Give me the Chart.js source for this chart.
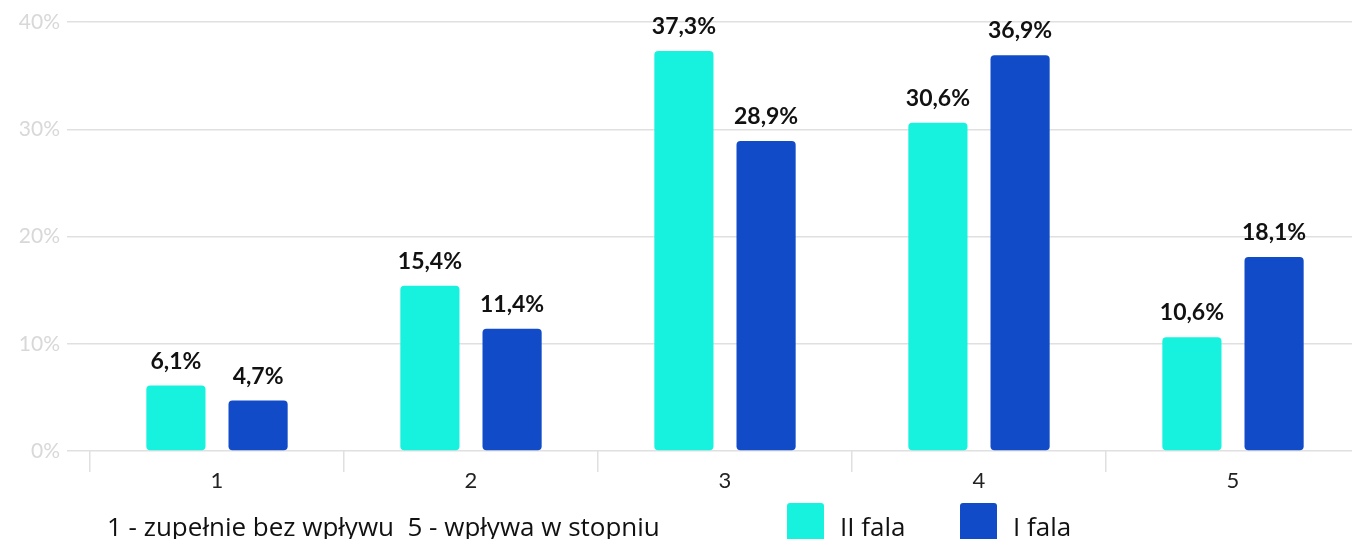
<!DOCTYPE html>
<html lang="pl">
<head>
<meta charset="utf-8">
<title>II fala / I fala</title>
<script src="https://cdn.jsdelivr.net/npm/chart.js@4"></script>
<style>
  html, body { margin: 0; padding: 0; background: #fff; overflow: hidden; }
  #wrap { position: relative; width: 1360px; height: 539px; }
</style>
</head>
<body>
<div id="wrap"><canvas id="chart"></canvas></div>
<script>
// ── data ──
const categories = ['1', '2', '3', '4', '5'];
const iiFala = [6.1, 15.4, 37.3, 30.6, 10.6];
const iFala = [4.7, 11.4, 28.9, 36.9, 18.1];
const yTicks = [0, 10, 20, 30, 40];
const axisTitle = '1 - zupełnie bez wpływu  5 - wpływa w stopniu';

const CYAN = '#17f2de';
const BLUE = '#124bc8';
const GRID = '#e0e0e0';

const fmt = v => v.toFixed(1).replace('.', ',') + '%';

// value labels above the bars
const valueLabels = {
  id: 'valueLabels',
  afterDatasetsDraw(chart) {
    const ctx = chart.ctx;
    ctx.save();
    ctx.font = "bold 23px Lato";
    ctx.fillStyle = '#111';
    ctx.textAlign = 'center';
    ctx.textBaseline = 'alphabetic';
    chart.data.datasets.forEach((ds, i) => {
      chart.getDatasetMeta(i).data.forEach((bar, j) => {
        ctx.fillText(fmt(ds.data[j]), bar.x, bar.y - 17);
      });
    });
    ctx.restore();
  }
};

// axis note + legend along the bottom
const footer = {
  id: 'footer',
  afterDraw(chart) {
    const ctx = chart.ctx;
    const base = 536;
    ctx.save();
    ctx.font = "26px 'Open Sans'";
    ctx.fillStyle = '#111';
    ctx.textBaseline = 'alphabetic';
    ctx.textAlign = 'left';
    ctx.fillText(axisTitle, chart.chartArea.left + 17, base);

    const items = [{ x: 787 }, { x: 960 }];
    chart.data.datasets.forEach((ds, i) => {
      const x = items[i].x;
      ctx.fillStyle = ds.backgroundColor;
      ctx.beginPath();
      ctx.roundRect(x, 503, 37, 45, 3);
      ctx.fill();
      ctx.fillStyle = '#111';
      ctx.fillText(ds.label, x + 53, base);
    });
    ctx.restore();
  }
};

new Chart(document.getElementById('chart'), {
  type: 'bar',
  data: {
    labels: categories,
    datasets: [
      { label: 'II fala', data: iiFala, backgroundColor: CYAN },
      { label: 'I fala', data: iFala, backgroundColor: BLUE },
    ]
  },
  options: {
    responsive: true,
    maintainAspectRatio: false,
    animation: false,
    layout: { padding: { top: 22, right: 0, left: 0, bottom: 0 } },
    datasets: {
      bar: {
        categoryPercentage: 0.647,
        barPercentage: 0.72,
        borderRadius: 4,
        borderSkipped: false,
      }
    },
    plugins: {
      legend: { display: false },
      tooltip: { enabled: false }
    },
    scales: {
      x: {
        afterFit: s => { s.height = 88; },
        grid: { display: true, offset: true, drawOnChartArea: false, color: GRID, lineWidth: 1.5, tickLength: 21 },
        border: { display: false },
        ticks: { color: '#222', font: { family: 'Lato', size: 22 }, padding: -4 }
      },
      y: {
        min: 0,
        max: 40,
        afterFit: s => { s.width = 90; },
        afterBuildTicks: s => { s.ticks = yTicks.map(v => ({ value: v })); },
        grid: { color: GRID, lineWidth: 1.5, tickLength: 23 },
        border: { display: false },
        ticks: {
          color: '#d8d8d8',
          padding: 7,
          font: { family: 'Lato', size: 21 },
          callback: v => v + '%'
        }
      }
    }
  },
  plugins: [valueLabels, footer]
});
</script>
</body>
</html>
